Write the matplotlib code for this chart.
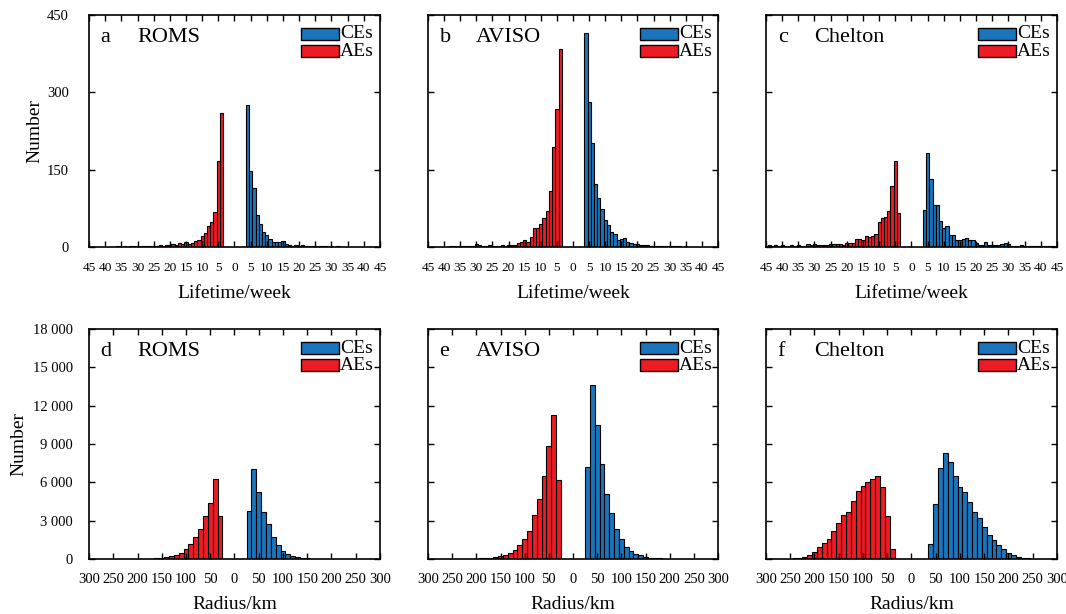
import numpy as np
import matplotlib
matplotlib.use("Agg")
import matplotlib.pyplot as plt
from matplotlib.patches import Rectangle
from matplotlib.ticker import FuncFormatter, MultipleLocator

plt.rcParams['font.family'] = ['Liberation Serif', 'DejaVu Serif']

# ---------------- data ----------------
weeks = np.arange(4, 46)  # lifetime bins (weeks), AEs are drawn on the negative side

roms_life_ce = [276, 148, 114, 63, 44, 30, 23, 15, 10, 10, 10, 12, 5, 3, 2, 3, 2, 3, 2, 2, 1,
                2, 1, 1, 2, 1, 1, 0, 1, 0, 0, 0, 0, 0, 0, 0, 0, 0, 0, 0, 0, 0]
roms_life_ae = [260, 167, 67, 49, 40, 27, 22, 14, 12, 8, 6, 9, 5, 7, 4, 5, 3, 3, 2, 3, 2,
                2, 1, 2, 1, 2, 1, 1, 1, 0, 1, 0, 1, 0, 0, 0, 0, 0, 0, 0, 0, 0]
aviso_life_ce = [415, 281, 202, 123, 95, 73, 52, 43, 30, 25, 14, 16, 17, 10, 8, 6, 5, 3, 3, 3, 2,
                 2, 2, 2, 1, 2, 1, 1, 1, 1, 0, 1, 0, 0, 0, 0, 0, 0, 0, 0, 0, 0]
aviso_life_ae = [384, 267, 194, 109, 69, 57, 45, 36, 36, 19, 10, 13, 9, 7, 4, 3, 3, 2, 3, 2, 2,
                 2, 3, 2, 2, 3, 5, 2, 2, 1, 2, 1, 1, 1, 1, 0, 0, 0, 0, 0, 0, 0]
chel_life_ce = [71, 183, 132, 82, 82, 50, 36, 40, 23, 24, 13, 13, 15, 17, 14, 14, 8, 4, 4, 10, 3,
                3, 3, 3, 6, 8, 5, 1, 2, 2, 3, 2, 2, 1, 2, 1, 2, 1, 2, 1, 1, 1]
chel_life_ae = [65, 167, 118, 70, 59, 56, 48, 26, 22, 20, 21, 13, 15, 15, 8, 8, 8, 4, 6, 6, 6,
                6, 3, 3, 3, 3, 5, 3, 5, 2, 2, 3, 2, 3, 2, 2, 3, 2, 3, 2, 3, 2]

radius = np.arange(30, 300, 10)  # radius bins (km)

roms_rad_ce = [3760, 7040, 5240, 3680, 2770, 1750, 1070, 630, 365, 210, 130, 78, 40, 26, 15,
               10, 6, 4, 2, 1, 0, 0, 0, 0, 0, 0, 0]
roms_rad_ae = [3400, 6300, 4400, 3370, 2320, 1750, 1170, 780, 500, 340, 235, 130, 80, 52, 35,
               25, 15, 10, 6, 4, 3, 2, 1, 0, 0, 0, 0]
aviso_rad_ce = [7220, 13640, 10520, 7460, 5090, 3580, 2360, 1560, 960, 600, 420, 290, 160, 104,
                60, 40, 25, 15, 8, 4, 2, 1, 0, 0, 0, 0, 0]
aviso_rad_ae = [6210, 11300, 8880, 6470, 4700, 3460, 2230, 1530, 1070, 680, 490, 310, 230, 180,
                104, 60, 40, 20, 12, 6, 3, 2, 1, 0, 0, 0, 0]
chel_rad_ce = [0, 1170, 4310, 7120, 8260, 7580, 6470, 5640, 5220, 4490, 3640, 3170, 2490, 1900,
               1480, 1090, 750, 450, 290, 160, 80, 40, 20, 10, 5, 2, 0]
chel_rad_ae = [0, 805, 3400, 5610, 6470, 6290, 6000, 5740, 5300, 4520, 3660, 3430, 2830, 2180,
               1580, 1220, 910, 545, 290, 180, 104, 52, 30, 15, 8, 4, 2]

panel_letters = ['a', 'b', 'c', 'd', 'e', 'f']
panel_names = ['ROMS', 'AVISO', 'Chelton', 'ROMS', 'AVISO', 'Chelton']
legend_labels = ['CEs', 'AEs']

CE_COLOR = '#1a75bc'
AE_COLOR = '#ed1c24'

# ---------------- figure ----------------
W, H = 1066, 614
fig = plt.figure(figsize=(W / 100, H / 100), dpi=100)

lefts = [89, 428, 766]
widths = [291, 290, 291]
rows = [(15, 247), (329, 559)]

def add_ax(col, row):
    l = lefts[col]
    w = widths[col]
    t, b = rows[row]
    return fig.add_axes([l / W, 1 - b / H, w / W, (b - t) / H])

life_data = [(roms_life_ce, roms_life_ae), (aviso_life_ce, aviso_life_ae), (chel_life_ce, chel_life_ae)]
rad_data = [(roms_rad_ce, roms_rad_ae), (aviso_rad_ce, aviso_rad_ae), (chel_rad_ce, chel_rad_ae)]

fmt_thousands = FuncFormatter(lambda v, p: f"{int(round(v)):,}".replace(",", " "))
fmt_abs = FuncFormatter(lambda v, p: f"{int(round(abs(v)))}")

for row in range(2):
    for col in range(3):
        ax = add_ax(col, row)
        idx = row * 3 + col
        if row == 0:
            ce, ae = life_data[col]
            ax.bar(weeks, ce, width=1.0, color=CE_COLOR, edgecolor='black', linewidth=0.8)
            ax.bar(-weeks, ae, width=1.0, color=AE_COLOR, edgecolor='black', linewidth=0.8)
            ax.set_xlim(-45, 45)
            ax.set_ylim(0, 450)
            ax.xaxis.set_major_locator(MultipleLocator(5))
            ax.yaxis.set_major_locator(MultipleLocator(150))
            ax.xaxis.set_major_formatter(fmt_abs)
            ax.set_xlabel('Lifetime/week', fontsize=14, labelpad=8)
            xt_size = 9.6
            xpad = 10.5
            ypad = 14.5
            ylab_x = -0.158
            axh = rows[0][1] - rows[0][0]
        else:
            ce, ae = rad_data[col]
            ax.bar(radius, ce, width=10.0, color=CE_COLOR, edgecolor='black', linewidth=0.8)
            ax.bar(-radius, ae, width=10.0, color=AE_COLOR, edgecolor='black', linewidth=0.8)
            ax.set_xlim(-300, 300)
            ax.set_ylim(0, 18000)
            ax.xaxis.set_major_locator(MultipleLocator(50))
            ax.yaxis.set_major_locator(MultipleLocator(3000))
            ax.xaxis.set_major_formatter(fmt_abs)
            ax.yaxis.set_major_formatter(fmt_thousands)
            ax.set_xlabel('Radius/km', fontsize=14, labelpad=7)
            xt_size = 10.5
            xpad = 10
            ypad = 11.5
            ylab_x = -0.21
            axh = rows[1][1] - rows[1][0]

        ax.tick_params(axis='both', direction='in', top=True, right=True, length=4, width=1.0)
        ax.tick_params(axis='x', labelsize=xt_size, pad=xpad)
        ax.tick_params(axis='y', labelsize=10.5, pad=ypad)
        for s in ax.spines.values():
            s.set_linewidth(1.2)
        if col == 0:
            ax.set_ylabel('Number', fontsize=14)
            ax.yaxis.set_label_coords(ylab_x, 0.5)
        else:
            ax.tick_params(axis='y', labelleft=False)

        # panel label + name
        ax.text(0.04, 1 - 22 / axh, panel_letters[idx], transform=ax.transAxes,
                fontsize=16, va='center', ha='left')
        ax.text(0.165, 1 - 22 / axh, panel_names[idx], transform=ax.transAxes,
                fontsize=16, va='center', ha='left')

        # manual legend
        aw = widths[col]
        x0 = 212 / aw
        pw = 38 / aw
        for k, (lab, colr) in enumerate(zip(legend_labels, [CE_COLOR, AE_COLOR])):
            top_px = 13 + k * 17
            y1 = 1 - (top_px + 12) / axh
            ph = 12 / axh
            ax.add_patch(Rectangle((x0, y1), pw, ph, transform=ax.transAxes,
                                   facecolor=colr, edgecolor='black', linewidth=1.0,
                                   clip_on=False))
            ax.text(x0 + pw + 1 / aw, y1 + ph / 2, lab, transform=ax.transAxes,
                    fontsize=14, va='center', ha='left')

fig.savefig('out.png', dpi=100)
